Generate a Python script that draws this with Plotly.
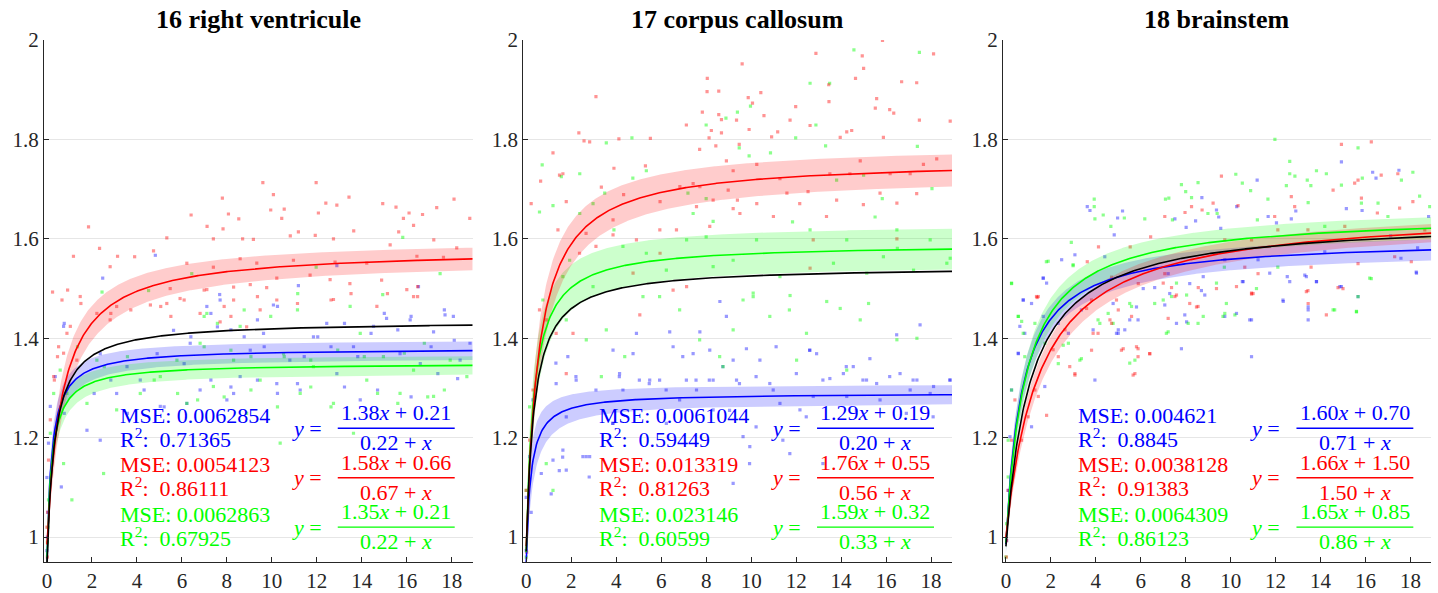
import numpy as np
import plotly.graph_objects as go

# ---------------- data ----------------
titles = ["16 right ventricule", "17 corpus callosum", "18 brainstem"]
x_ticks = list(range(0, 19, 2))
y_ticks = [1, 1.2, 1.4, 1.6, 1.8, 2]
y_tick_labels = ["1", "1.2", "1.4", "1.6", "1.8", "2"]

# fit parameters y = (a x + b) / (c + x)
p1_fits = {"blue": [1.38, 0.21, 0.22], "red": [1.58, 0.66, 0.67], "green": [1.35, 0.21, 0.22], "black": [1.435, 0.31, 0.33]}
p2_fits = {"blue": [1.29, 0.19, 0.20], "red": [1.76, 0.55, 0.56], "green": [1.59, 0.32, 0.33], "black": [1.545, 0.34, 0.35]}
p3_fits = {"blue": [1.60, 0.70, 0.71], "red": [1.66, 1.50, 1.50], "green": [1.65, 0.85, 0.86], "black": [1.64, 1.05, 1.07]}

# confidence band half widths [far, extra at knee]
p1_bands = {"blue": [0.018, 0.012], "red": [0.02, 0.02], "green": [0.018, 0.012]}
p2_bands = {"blue": [0.018, 0.03], "red": [0.03, 0.02], "green": [0.04, 0.012]}
p3_bands = {"blue": [0.02, 0.01], "red": [0.015, 0.012], "green": [0.02, 0.012]}

p1_mse = {"blue": "0.0062854", "red": "0.0054123", "green": "0.0062863"}
p1_r2 = {"blue": "0.71365", "red": "0.86111", "green": "0.67925"}
p2_mse = {"blue": "0.0061044", "red": "0.013319", "green": "0.023146"}
p2_r2 = {"blue": "0.59449", "red": "0.81263", "green": "0.60599"}
p3_mse = {"blue": "0.004621", "red": "0.0038128", "green": "0.0064309"}
p3_r2 = {"blue": "0.8845", "red": "0.91383", "green": "0.86123"}

p1_red = [(1.85,1.624),(0.25,1.493),(1.18,1.565),(2.34,1.581),(2.81,1.544),(3.14,1.565),(3.9,1.564),(4.74,1.576),(5.33,1.602),(6.41,1.648),(7.12,1.625),(7.8,1.682),(8.07,1.65),(7.83,1.62),(8.53,1.64),(9.6,1.713),(10.07,1.689),(9.95,1.658),(10.55,1.66),(10.44,1.641),(11.97,1.713),(12.07,1.652),(12.4,1.672),(12.89,1.668),(13.43,1.684),(13.64,1.616),(14.93,1.671),(15.52,1.664),(15.85,1.641),(16.3,1.627),(17.33,1.663),(18.1,1.68),(18.8,1.641),(16.7,1.649),(16.1,1.652),(15.64,1.614),(11.18,1.614),(12.74,1.6),(11.93,1.607),(10.82,1.606),(9.18,1.599),(7.4,1.6),(8.7,1.6),(9.04,1.508),(8.3,1.503),(9.77,1.502),(14.88,1.517),(13.47,1.51),(7.11,1.498),(5.48,1.5),(11.7,1.527),(12.59,1.518),(16.0,1.498),(6.22,1.551),(9.33,1.551),(10.96,1.557),(14.22,1.551),(17.63,1.563),(18.22,1.582),(16.45,1.565),(12.81,1.553),(7.4,1.543),(8.59,1.56),(10.22,1.521),(15.26,1.588),(17.2,1.598),(0.67,1.477),(1.48,1.484),(2.22,1.45),(2.81,1.437),(3.1,1.464),(4.6,1.467),(5.33,1.47),(5.92,1.48),(6.81,1.45),(8.3,1.477),(8.88,1.423),(7.7,1.433),(9.48,1.457),(10.22,1.477),(12.74,1.478),(14.67,1.464),(16.3,1.484),(0.89,1.41),(1.33,1.356),(1.04,1.424),(0.3,1.323),(0.15,1.236),(0.07,1.155),(0.52,1.383),(0.74,1.37),(0.0,1.02),(0.02,0.96),(0.03,1.05),
          (1.51,1.47),(0.92,1.497),(2.84,1.45),(3.73,1.457),(5.06,1.464),(5.51,1.444),(6.1,1.477),(6.99,1.497),(7.88,1.464),(8.18,1.444),(9.36,1.484),(11.14,1.47),(12.63,1.477),(13.52,1.49),(15.14,1.49),(16.48,1.484),(16.48,1.504),(0.47,1.363),(0.33,1.316)]
p1_blue = [(0.74,1.424),(0.37,1.323),(0.15,1.263),(0.07,1.189),(0.0,1.12),(0.0,0.973),(0.64,1.101),(1.78,1.215),(2.37,1.369),(3.56,1.343),(4.15,1.316),(4.9,1.369),(5.63,1.416),(6.37,1.39),(7.11,1.464),(7.7,1.477),(8.3,1.289),(8.59,1.323),(9.04,1.376),(9.63,1.41),(10.07,1.467),(10.8,1.356),(11.26,1.296),(11.85,1.403),(12.44,1.43),(12.89,1.329),(13.63,1.383),(13.93,1.276),(14.52,1.424),(15.1,1.44),(15.7,1.369),(16.15,1.437),(16.6,1.349),(17.19,1.413),(17.7,1.447),(18.07,1.444),(18.81,1.39),(18.37,1.356),(8.0,1.276),(10.22,1.309),(6.81,1.296),(5.04,1.263),(6.22,1.269),(2.37,1.195),(3.1,1.289),(2.48,1.521),(4.82,1.567),(12.89,1.546),(11.18,1.506),(16.52,1.504),(7.68,1.488),(0.02,1.0),(0.05,1.05),
           (0.77,1.43),(7.29,1.45),(7.58,1.423),(8.18,1.417),(8.77,1.403),(9.36,1.437),(9.66,1.383),(10.25,1.464),(11.44,1.363),(12.04,1.403),(12.63,1.383),(13.23,1.43),(13.82,1.363),(14.41,1.41),(15.0,1.45),(15.6,1.417),(16.19,1.444),(17.08,1.383),(17.67,1.457),(18.11,1.396),(18.26,1.319),(7.29,1.316),(8.18,1.302),(9.36,1.316),(10.25,1.289),(11.14,1.309),(13.23,1.302),(14.7,1.296),(16.19,1.282),(17.38,1.329),(4.32,1.296),(6.1,1.349),(2.84,1.316),(2.1,1.289),(5.21,1.262),(6.4,1.403),(3.58,1.249),(0.77,1.249)]
p1_green = [(0.59,1.336),(0.3,1.289),(0.15,1.209),(0.07,1.075),(0.89,1.289),(1.11,1.075),(0.74,1.148),(1.78,1.269),(2.52,1.128),(2.22,1.356),(3.1,1.256),(4.15,1.289),(5.04,1.323),(5.78,1.356),(6.22,1.269),(6.81,1.39),(7.4,1.303),(8.3,1.356),(8.88,1.249),(9.48,1.316),(10.37,1.189),(10.52,1.369),(11.26,1.289),(11.85,1.343),(12.74,1.269),(13.48,1.464),(13.93,1.41),(14.22,1.316),(14.96,1.363),(15.7,1.289),(16.3,1.336),(17.19,1.283),(17.93,1.356),(18.67,1.323),(13.63,1.209),(7.11,1.45),(8.59,1.424),(15.82,1.603),(17.48,1.53),(11.97,1.543),(11.15,1.49),(6.44,1.53),(2.45,1.493),(4.52,1.496),(14.93,1.488),(0.02,0.99),(0.05,1.02),
            (6.99,1.444),(7.58,1.43),(8.77,1.457),(9.95,1.444),(11.14,1.457),(6.99,1.383),(8.18,1.376),(9.07,1.363),(10.55,1.363),(11.73,1.356),(12.93,1.376),(14.11,1.363),(15.89,1.37),(16.78,1.39),(5.81,1.289),(6.7,1.276),(7.88,1.282),(9.07,1.296),(10.25,1.262),(11.73,1.302),(12.63,1.262),(14.7,1.289),(15.6,1.269),(16.93,1.282),(17.67,1.296),(2.55,1.343),(3.58,1.363),(4.77,1.316),(1.36,1.383)]

p2_red = [(0.22,1.671),(0.64,1.716),(1.19,1.773),(1.48,1.728),(1.63,1.731),(1.41,1.618),(1.78,1.675),(2.34,1.813),(2.57,1.797),(2.82,1.795),(3.1,1.886),(3.34,1.704),(3.9,1.742),(4.12,1.801),(3.86,1.638),(4.33,1.689),(5.3,1.747),(5.52,1.802),(5.95,1.675),(7.12,1.829),(7.57,1.665),(7.71,1.78),(7.83,1.855),(8.05,1.923),(8.04,1.896),(8.13,1.803),(8.23,1.818),(8.56,1.897),(8.56,1.85),(8.68,1.84),(8.68,1.813),(8.43,1.787),(8.9,1.757),(9.35,1.839),(9.47,1.79),(9.6,1.952),(9.87,1.884),(10.06,1.873),(9.91,1.82),(9.39,1.678),(10.43,1.894),(10.57,1.848),(10.91,1.805),(11.18,1.815),(11.73,1.839),(11.98,1.866),(12.62,1.828),(12.88,1.973),(13.45,1.91),(13.46,1.876),(13.96,1.804),(14.25,1.815),(14.47,1.818),(14.64,1.923),(14.94,1.968),(15.0,1.943),(15.52,1.863),(15.58,1.882),(15.84,1.999),(15.88,1.804),(16.16,1.86),(16.34,1.853),(16.69,1.916),(17.36,1.914),(17.48,1.839),(18.11,1.972),(18.85,1.837),(4.9,1.598),(5.94,1.618),(6.83,1.705),(7.72,1.705),(8.31,1.678),(8.98,1.698),(9.5,1.651),(10.25,1.671),(10.99,1.645),(11.59,1.692),(12.16,1.671),(12.53,1.695),(13.35,1.645),(13.8,1.678),(14.39,1.731),(14.99,1.669),(15.73,1.692),(16.48,1.672),(17.07,1.731),(17.36,1.691),(17.66,1.75),(18.25,1.761),(16.18,1.731),(14.85,1.757),(13.5,1.731),(11.28,1.721),(10.25,1.75),(9.2,1.737),(7.42,1.711),(6.68,1.618),(8.16,1.625),(9.2,1.661),(12.76,1.598),(16.48,1.6),(0.9,1.437),(1.33,1.41),(1.78,1.329),(0.59,1.457),(0.3,1.296),(0.15,1.195),(0.0,1.094),(2.08,1.41),(5.05,1.447),(6.53,1.497),(2.66,1.611),(3.1,1.585),(2.37,1.571),(3.86,1.608),(4.75,1.531),(7.13,1.504),(12.62,1.541),(5.95,1.571),(0.02,0.97)]
p2_green = [(0.71,1.749),(0.59,1.654),(1.56,1.725),(1.19,1.667),(2.38,1.731),(2.38,1.651),(2.97,1.671),(3.56,1.793),(3.49,1.692),(3.9,1.618),(4.7,1.803),(4.74,1.722),(5.34,1.737),(7.19,1.692),(8.0,1.829),(8.0,1.681),(8.31,1.635),(8.88,1.843),(9.39,1.855),(9.47,1.783),(9.91,1.767),(9.97,1.867),(10.86,1.773),(11.84,1.634),(11.98,1.803),(12.62,1.913),(12.88,1.829),(13.31,1.787),(13.49,1.913),(13.8,1.718),(14.57,1.98),(15.0,1.728),(15.51,1.644),(15.83,1.681),(16.5,1.581),(17.39,1.786),(17.48,1.975),(18.04,1.701),(18.85,1.561),(5.34,1.571),(6.23,1.537),(7.13,1.598),(8.31,1.544),(9.2,1.557),(10.24,1.598),(11.28,1.524),(12.62,1.618),(13.66,1.551),(14.25,1.598),(15.14,1.531),(15.88,1.564),(16.48,1.618),(17.22,1.537),(17.96,1.598),(18.7,1.551),(10.09,1.491),(11.73,1.486),(4.3,1.585),(2.97,1.504),(1.93,1.557),(1.63,1.524),(7.42,1.651),(8.0,1.604),(0.74,1.477),(1.78,1.437),(2.67,1.397),(3.56,1.417),(5.19,1.484),(5.93,1.484),(6.82,1.457),(7.71,1.397),(8.6,1.363),(9.2,1.417),(9.64,1.477),(10.09,1.484),(10.83,1.444),(11.7,1.457),(12.46,1.41),(13.36,1.474),(13.96,1.46),(14.85,1.437),(15.22,1.47),(16.48,1.397),(17.37,1.4),(14.25,1.336),(12.02,1.356),(8.75,1.343),(1.19,1.094),(0.89,1.148),(0.15,1.262),(0.0,1.094),(0.0,0.96),(3.34,1.323),(4.38,1.363)]
p2_blue = [(0.3,1.276),(0.15,1.162),(0.0,1.08),(0.0,0.973),(0.22,1.05),(0.67,1.128),(1.11,1.087),(1.33,1.309),(1.85,1.363),(1.63,1.175),(2.22,1.316),(2.52,1.162),(2.82,1.162),(3.86,1.376),(4.15,1.329),(4.75,1.369),(4.9,1.41),(5.49,1.316),(5.93,1.316),(6.38,1.413),(6.53,1.383),(7.12,1.316),(7.42,1.369),(7.72,1.413),(8.16,1.376),(8.31,1.316),(8.61,1.474),(8.9,1.444),(9.2,1.356),(9.35,1.316),(9.64,1.202),(9.79,1.379),(9.94,1.182),(10.39,1.356),(10.83,1.309),(11.28,1.269),(11.72,1.168),(12.17,1.256),(12.61,1.376),(12.91,1.369),(13.5,1.319),(14.1,1.329),(14.54,1.343),(15.13,1.316),(15.28,1.359),(15.58,1.309),(16.47,1.407),(16.62,1.329),(17.07,1.296),(17.37,1.316),(17.51,1.427),(18.11,1.303),(18.85,1.316),(4.3,1.296),(6.82,1.276),(7.57,1.296),(8.31,1.256),(10.98,1.296),(12.76,1.283),(14.25,1.283),(15.73,1.276),(17.96,1.289),(2.67,1.162),(1.78,1.135),(1.19,1.155),(3.86,1.229),(6.23,1.229),(9.2,1.108),(1.78,1.242),
           (1.32,1.35),(2.21,1.323),(3.1,1.296),(4.14,1.323),(5.03,1.316),(5.47,1.309),(6.22,1.296),(6.96,1.363),(7.55,1.316),(8.14,1.316),(8.74,1.343),(9.48,1.309),(10.22,1.323),(11.11,1.383),(12.01,1.329),(12.6,1.376),(13.19,1.316),(14.23,1.343),(14.97,1.316),(16.16,1.323),(17.2,1.316),(18.83,1.316),(10.22,1.222),(11.41,1.195),(12.45,1.242),(13.19,1.148),(9.93,1.148),(1.62,1.161),(1.47,1.134),(2.8,1.121),(9.04,1.255),(14.68,1.255),(16.9,1.249),(18.09,1.242),(3.84,1.229)]

p3_red = [(1.39,1.482),(3.62,1.554),(4.12,1.584),(5.53,1.584),(6.44,1.604),(7.07,1.645),(7.97,1.653),(8.26,1.665),(8.73,1.658),(9.22,1.672),(9.59,1.726),(9.74,1.598),(10.33,1.667),(10.93,1.489),(10.63,1.543),(11.22,1.53),(11.96,1.645),(12.7,1.685),(12.85,1.665),(13.44,1.496),(13.58,1.543),(14.56,1.698),(14.93,1.79),(15.52,1.712),(15.67,1.718),(15.82,1.682),(16.26,1.795),(16.7,1.728),(16.53,1.652),(17.44,1.731),(17.52,1.662),(18.11,1.675),(18.04,1.554),(14.78,1.502),(15.67,1.55),(17.3,1.564),(10.93,1.598),(8.56,1.502),(7.37,1.502),(7.07,1.53),(5.89,1.51),(4.7,1.523),(13.44,1.618),(12.1,1.618),(15.08,1.625),(18.64,1.618),(1.44,1.484),(0.4,1.276),(0.25,1.195),(0.1,1.094),(0.03,0.993),(0.7,1.195),(0.99,1.242),(1.29,1.296),(1.81,1.245),(2.33,1.363),(3.07,1.329),(3.81,1.376),(4.1,1.41),(4.7,1.43),(5.14,1.376),(5.88,1.379),(5.74,1.329),(6.4,1.369),(5.88,1.363),(5.59,1.444),(5.0,1.457),(7.22,1.44),(7.52,1.484),(8.55,1.464),(10.93,1.491),(13.45,1.47),(3.81,1.477),(2.63,1.417),(1.44,1.283),(0.02,0.96),
          (1.36,1.484),(3.59,1.46),(4.63,1.437),(4.92,1.477),(5.22,1.379),(5.81,1.383),(6.4,1.369),(7.0,1.511),(7.59,1.487),(8.18,1.47),(8.48,1.463),(9.37,1.5),(10.26,1.504),(11.0,1.49),(13.37,1.494),(14.26,1.447),(15.0,1.5),(5.66,1.326),(3.07,1.326),(2.84,1.343),(2.1,1.377),(3.88,1.41)]
p3_green = [(0.25,1.51),(1.8,1.554),(2.91,1.593),(2.99,1.546),(3.93,1.68),(3.93,1.665),(3.96,1.64),(4.33,1.648),(4.67,1.625),(5.27,1.642),(6.18,1.64),(7.1,1.68),(7.25,1.682),(7.41,1.638),(7.81,1.709),(8.0,1.695),(8.55,1.713),(8.26,1.683),(9.4,1.651),(10.23,1.73),(10.52,1.712),(10.89,1.697),(11.66,1.68),(11.97,1.8),(12.48,1.707),(12.63,1.756),(12.63,1.731),(12.86,1.726),(13.45,1.673),(13.82,1.737),(13.41,1.718),(13.57,1.707),(14.26,1.731),(14.93,1.708),(15.67,1.783),(15.86,1.722),(15.82,1.672),(16.56,1.672),(17.6,1.718),(18.11,1.734),(18.41,1.686),(18.86,1.665),(16.26,1.52),(12.1,1.543),(9.72,1.543),(11.19,1.638),(8.99,1.651),(14.19,1.625),(17.0,1.645),(0.55,1.444),(0.7,1.434),(0.84,1.363),(0.25,1.296),(0.1,1.195),(0.1,1.121),(0.03,1.027),(0.0,0.96),(1.29,1.43),(1.73,1.39),(2.33,1.349),(2.78,1.39),(3.36,1.359),(4.1,1.437),(4.55,1.45),(5.59,1.464),(5.74,1.356),(7.22,1.413),(8.11,1.43),(8.55,1.43),(9.74,1.45),(10.19,1.447),(14.63,1.457),(15.67,1.484),(15.6,1.454),(7.37,1.484),(6.62,1.47),
            (0.25,1.511),(0.55,1.444),(1.88,1.555),(2.99,1.548),(5.51,1.47),(7.0,1.477),(7.59,1.511),(8.04,1.487),(8.78,1.444),(9.37,1.511),(9.66,1.444),(9.81,1.47),(11.15,1.5),(15.6,1.453),(16.19,1.521),(14.56,1.457),(4.77,1.43),(7.14,1.41),(4.18,1.43),(2.55,1.386),(3.29,1.356),(0.77,1.41),(5.51,1.35)]
p3_blue = [(0.77,1.477),(1.66,1.521),(2.48,1.558),(3.07,1.568),(3.62,1.665),(3.74,1.657),(4.4,1.564),(4.82,1.608),(4.97,1.642),(5.19,1.656),(7.52,1.64),(8.02,1.623),(8.44,1.636),(8.72,1.683),(9.37,1.658),(9.47,1.644),(9.56,1.621),(10.27,1.665),(11.18,1.718),(11.67,1.645),(12.04,1.632),(12.52,1.524),(12.7,1.64),(12.9,1.656),(13.3,1.527),(13.82,1.514),(14.93,1.755),(14.93,1.504),(15.15,1.661),(15.85,1.657),(16.32,1.734),(16.47,1.722),(17.12,1.606),(17.49,1.738),(18.26,1.533),(18.81,1.645),(18.32,1.582),(17.58,1.561),(14.19,1.574),(10.52,1.514),(8.7,1.496),(7.22,1.53),(6.62,1.502),(9.74,1.558),(11.22,1.558),(0.25,1.296),(0.18,1.202),(0.1,1.094),(0.03,0.993),(0.55,1.369),(0.84,1.41),(1.14,1.47),(1.14,1.222),(1.73,1.303),(2.33,1.43),(2.78,1.41),(3.36,1.457),(3.96,1.316),(5.0,1.41),(5.29,1.417),(5.88,1.437),(7.07,1.467),(7.81,1.379),(7.96,1.447),(8.85,1.487),(9.74,1.444),(10.93,1.363),(10.93,1.437),(12.34,1.474),(13.45,1.437),(13.45,1.457),(5.0,1.417),
           (1.66,1.521),(0.77,1.477),(1.81,1.511),(4.77,1.47),(5.81,1.463),(6.11,1.5),(7.29,1.49),(8.18,1.51),(8.78,1.524),(10.26,1.45),(10.56,1.514),(10.85,1.437),(11.74,1.531),(12.33,1.477),(12.63,1.514),(13.37,1.524),(13.45,1.463),(13.82,1.514),(14.86,1.504),(15.67,1.484),(18.27,1.531),(5.51,1.437),(7.59,1.43),(8.04,1.433),(4.92,1.41),(3.88,1.417),(0.62,1.424),(0.55,1.37),(1.66,1.444)]

panels = [
    dict(fits=p1_fits, bands=p1_bands, mse=p1_mse, r2=p1_r2, pts={"red": p1_red, "green": p1_green, "blue": p1_blue}),
    dict(fits=p2_fits, bands=p2_bands, mse=p2_mse, r2=p2_r2, pts={"red": p2_red, "green": p2_green, "blue": p2_blue}),
    dict(fits=p3_fits, bands=p3_bands, mse=p3_mse, r2=p3_r2, pts={"red": p3_red, "green": p3_green, "blue": p3_blue}),
]

# ---------------- styling ----------------
W, H = 1438, 593
FONT = "Liberation Serif, Times New Roman, DejaVu Serif, serif"
AXC = "#262626"
col = {"red": "#ff0000", "green": "#00ff00", "blue": "#0000ff", "black": "#000000"}
pt_col = {"red": "rgba(255,0,0,0.42)", "green": "rgba(0,255,0,0.45)", "blue": "rgba(0,0,255,0.40)"}
band_col = {"red": "rgba(255,0,0,0.2)", "green": "rgba(0,255,0,0.2)", "blue": "rgba(0,0,255,0.2)"}
px_left = [44, 523.3, 1003]
px_right = [472.7, 952, 1431.3]
top_px, bot_px = 40, 562
x_range = [-0.13, 18.93]
y_range = [0.95, 2.0]
TXT = 22

fig = go.Figure()
xs = np.linspace(0, 18.93, 500)

def f(p, x):
    a, b, c = p
    return (a * x + b) / (c + x)

annotations = []
shapes = []
for i, P in enumerate(panels):
    xa = "x" if i == 0 else f"x{i+1}"
    ya = "y" if i == 0 else f"y{i+1}"
    for s in ["blue", "green", "red"]:
        pts = P["pts"][s]
        fig.add_trace(go.Scatter(x=[p[0] for p in pts], y=[p[1] for p in pts], mode="markers",
                                 marker=dict(size=3.2, color=pt_col[s], symbol="square"), xaxis=xa, yaxis=ya,
                                 showlegend=False, hoverinfo="skip"))
    for s in ["blue", "green", "red"]:
        a, b, c = P["fits"][s]
        h0, h1 = P["bands"][s]
        yc = f(P["fits"][s], xs)
        hw = h0 + h1 * 4 * xs * c / (c + xs) ** 2
        fig.add_trace(go.Scatter(x=np.concatenate([xs, xs[::-1]]),
                                 y=np.concatenate([yc + hw, (yc - hw)[::-1]]),
                                 fill="toself", fillcolor=band_col[s], line=dict(width=0),
                                 mode="lines", xaxis=xa, yaxis=ya, showlegend=False, hoverinfo="skip"))
    for s in ["blue", "green", "red", "black"]:
        fig.add_trace(go.Scatter(x=xs, y=f(P["fits"][s], xs), mode="lines",
                                 line=dict(color=col[s], width=1.6), xaxis=xa, yaxis=ya,
                                 showlegend=False, hoverinfo="skip"))
    for k, s in enumerate(["blue", "red", "green"]):
        y_mse = 1.245 - 0.0995 * k
        annotations.append(dict(xref=xa, yref=ya, x=3.14, y=y_mse, text=f"MSE: {P['mse'][s]}",
                                showarrow=False, xanchor="left", yanchor="middle",
                                font=dict(family=FONT, size=TXT, color=col[s])))
        annotations.append(dict(xref=xa, yref=ya, x=3.14, y=y_mse - 0.045,
                                text=f"R<sup>2</sup>:  {P['r2'][s]}",
                                showarrow=False, xanchor="left", yanchor="middle",
                                font=dict(family=FONT, size=TXT, color=col[s])))
        a, b, c = P["fits"][s]
        y_bar = 1.219 - 0.0995 * k
        annotations.append(dict(xref=xa, yref=ya, x=15.52, y=y_bar + 0.031,
                                text=f"{a:.2f}<i>x</i> + {b:.2f}", showarrow=False,
                                xanchor="center", yanchor="middle",
                                font=dict(family=FONT, size=TXT, color=col[s])))
        annotations.append(dict(xref=xa, yref=ya, x=15.52, y=y_bar - 0.029,
                                text=f"{c:.2f} + <i>x</i>", showarrow=False,
                                xanchor="center", yanchor="middle",
                                font=dict(family=FONT, size=TXT, color=col[s])))
        annotations.append(dict(xref=xa, yref=ya, x=11.55, y=y_bar,
                                text="<i>y</i> =", showarrow=False,
                                xanchor="center", yanchor="middle",
                                font=dict(family=FONT, size=TXT, color=col[s])))
        shapes.append(dict(type="line", xref=xa, yref=ya, x0=12.93, x1=18.13, y0=y_bar, y1=y_bar,
                           line=dict(color=col[s], width=1.3)))
    annotations.append(dict(xref="paper", yref="paper", x=(px_left[i] + px_right[i]) / 2 / W,
                            y=1 - 20 / H, text=f"<b>{titles[i]}</b>", showarrow=False,
                            xanchor="center", yanchor="middle",
                            font=dict(family=FONT, size=26, color="#000000")))

layout = dict(width=W, height=H, margin=dict(l=0, r=0, t=0, b=0),
              paper_bgcolor="white", plot_bgcolor="white", font=dict(family=FONT),
              annotations=annotations, shapes=shapes, showlegend=False)
for i in range(3):
    xk = "xaxis" if i == 0 else f"xaxis{i+1}"
    yk = "yaxis" if i == 0 else f"yaxis{i+1}"
    ya = "y" if i == 0 else f"y{i+1}"
    xa = "x" if i == 0 else f"x{i+1}"
    layout[xk] = dict(domain=[px_left[i] / W, px_right[i] / W], range=x_range, anchor=ya,
                      tickvals=x_ticks, ticktext=[str(v) for v in x_ticks],
                      showgrid=False, zeroline=False, showline=True, linecolor=AXC, linewidth=1,
                      ticks="inside", ticklen=5, tickcolor=AXC,
                      tickfont=dict(family=FONT, size=21, color=AXC), automargin=False)
    layout[yk] = dict(domain=[1 - bot_px / H, 1 - top_px / H], range=y_range, anchor=xa,
                      tickvals=y_ticks, ticktext=y_tick_labels,
                      showgrid=True, gridcolor="#e6e6e6", gridwidth=1, zeroline=False,
                      showline=True, linecolor=AXC, linewidth=1,
                      ticks="inside", ticklen=5, tickcolor=AXC,
                      tickfont=dict(family=FONT, size=21, color=AXC), automargin=False)
fig.update_layout(**layout)
fig.write_html("out.html", config={"displayModeBar": False},
               post_script="document.body.style.margin='0';document.body.style.overflow='hidden';")
